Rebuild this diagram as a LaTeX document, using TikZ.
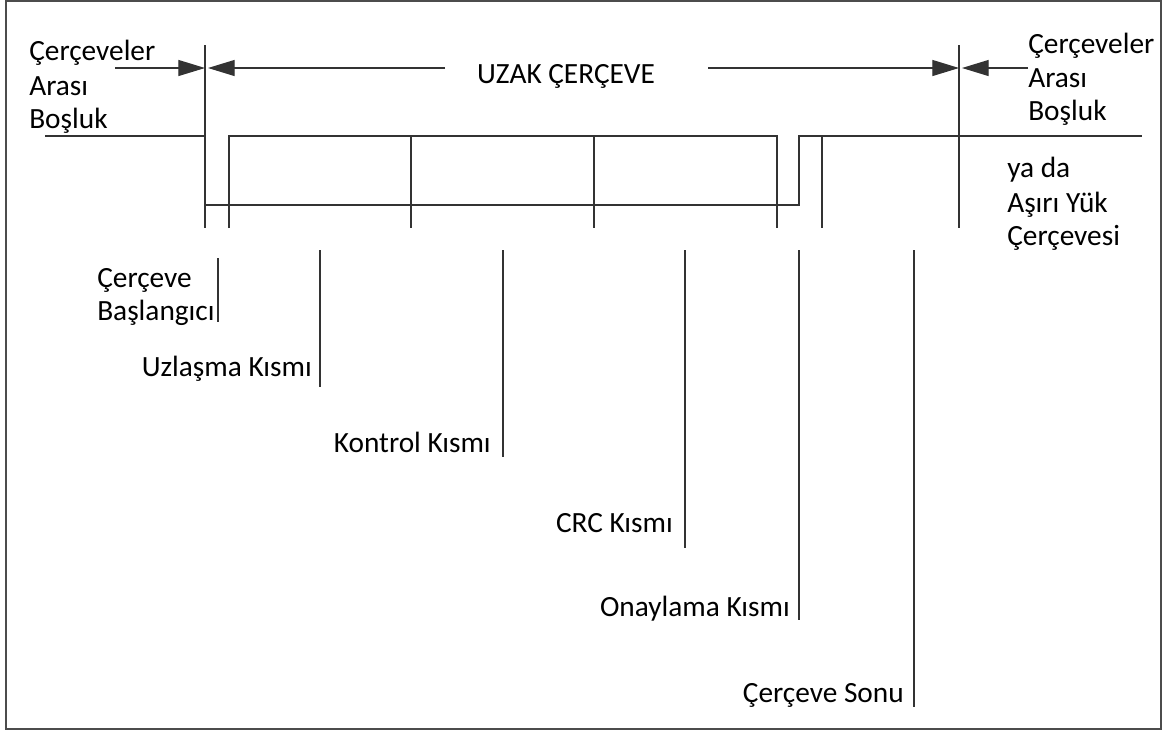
\documentclass[tikz,border=0pt]{standalone}
\usepackage{fontspec}
\setmainfont{Carlito}
\usetikzlibrary{arrows.meta}
\begin{document}
\begin{tikzpicture}[x=0.75pt,y=-0.75pt,
  wire/.style={line width=0.9pt, draw=black!80},
  arrowtip/.style={-{Triangle[length=20pt,width=12pt]}},
  lbl/.style={inner sep=0pt, font=\fontsize{22}{26}\selectfont},
  frame/.style={line width=1.6pt, draw=black!70}]
\useasboundingbox (0,0) rectangle (1169,733);
\draw[frame] (6,1) rectangle (1161,729);

% frame limits
\coordinate (sofL) at (205,45);   \coordinate (sofLb) at (205,228);
\coordinate (eofR) at (959,45);   \coordinate (eofRb) at (959,228);

% dimension arrows
\coordinate (a0) at (115,68);  \coordinate (a1) at (205,68);
\coordinate (a2) at (208,68);  \coordinate (a3) at (445,68);
\coordinate (a4) at (708,68);  \coordinate (a5) at (959,68);
\coordinate (a6) at (962,68);  \coordinate (a7) at (1028,68);
\draw[wire,arrowtip] (a0) -- (a1);
\draw[wire,arrowtip] (a3) -- (a2);
\draw[wire,arrowtip] (a4) -- (a5);
\draw[wire,arrowtip] (a7) -- (a6);
\node[lbl,anchor=base] (title) at (566,83) {UZAK ÇERÇEVE};

% bus levels
\draw[wire] (sofL) -- (sofLb);
\draw[wire] (eofR) -- (eofRb);
\draw[wire] (45,136) -- (205,136);
\draw[wire] (229,228) -- (229,136) -- (777,136) -- (777,228);
\draw[wire] (205,205) -- (799,205) -- (799,136) -- (1142,136);
\draw[wire] (411,136) -- (411,228);
\draw[wire] (594,136) -- (594,228);
\draw[wire] (822,136) -- (822,228);

% field markers
\draw[wire] (218,258) -- (218,322);
\draw[wire] (320,250) -- (320,387);
\draw[wire] (503,250) -- (503,457);
\draw[wire] (685,250) -- (685,548);
\draw[wire] (799,250) -- (799,620);
\draw[wire] (914,250) -- (914,707);

% interframe space labels
\node[lbl,anchor=base west] (ifsL1) at (29,60) {Çerçeveler};
\node[lbl,anchor=base west] (ifsL2) at (29,95) {Arası};
\node[lbl,anchor=base west] (ifsL3) at (29,128) {Boşluk};
\node[lbl,anchor=base west] (ifsR1) at (1028,53) {Çerçeveler};
\node[lbl,anchor=base west] (ifsR2) at (1028,87) {Arası};
\node[lbl,anchor=base west] (ifsR3) at (1028,120) {Boşluk};
\node[lbl,anchor=base west] (ovl1) at (1007,177) {ya da};
\node[lbl,anchor=base west] (ovl2) at (1007,212) {Aşırı Yük};
\node[lbl,anchor=base west] (ovl3) at (1007,245) {Çerçevesi};

% field labels
\node[lbl,anchor=base west] (sof1) at (97,287) {Çerçeve};
\node[lbl,anchor=base west] (sof2) at (97,320) {Başlangıcı};
\node[lbl,anchor=base east] (arb) at (312,376) {Uzlaşma Kısmı};
\node[lbl,anchor=base east] (ctl) at (491,452) {Kontrol Kısmı};
\node[lbl,anchor=base east] (crc) at (673,532) {CRC Kısmı};
\node[lbl,anchor=base east] (ack) at (790,616) {Onaylama Kısmı};
\node[lbl,anchor=base east] (eof) at (904,702) {Çerçeve Sonu};
\end{tikzpicture}
\end{document}
